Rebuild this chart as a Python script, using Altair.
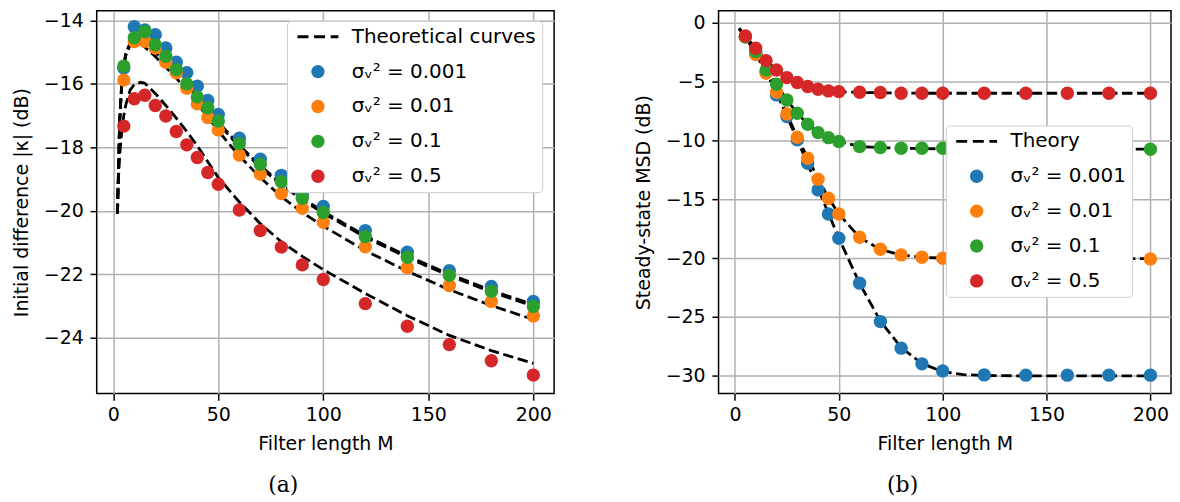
import altair as alt
import pandas as pd

# ---------------- data ----------------
M_pts = [5, 10, 15, 20, 25, 30, 35, 40, 45, 50, 60, 70, 80, 90, 100, 120, 140, 160, 180, 200]

# Panel (a): initial difference |kappa| (dB)
a_blue = [-15.50, -14.20, -14.30, -14.45, -14.87, -15.32, -15.65, -16.07, -16.52, -16.96,
          -17.71, -18.37, -18.88, -19.48, -19.86, -20.62, -21.30, -21.88, -22.38, -22.85]
a_orange = [-15.88, -14.67, -14.66, -14.87, -15.32, -15.65, -16.14, -16.63, -17.06, -17.45,
            -18.24, -18.84, -19.45, -19.92, -20.36, -21.13, -21.79, -22.35, -22.85, -23.31]
a_green = [-15.44, -14.55, -14.35, -14.77, -15.13, -15.55, -16.00, -16.41, -16.75, -17.17,
           -17.88, -18.53, -19.08, -19.60, -20.05, -20.81, -21.46, -22.03, -22.53, -23.01]
a_red = [-17.33, -16.47, -16.36, -16.68, -17.01, -17.50, -17.92, -18.32, -18.79, -19.16,
         -19.97, -20.62, -21.14, -21.70, -22.16, -22.92, -23.63, -24.21, -24.72, -25.17]

tM_a = [2, 3, 4, 5, 6, 8, 10, 13, 15, 20, 25, 30, 35, 40, 45, 50, 60, 70, 80, 90, 100, 120, 140, 160, 180, 200]
a_th_blue = [-20.1, -17.2, -16.0, -15.4, -15.05, -14.72, -14.62, -14.63, -14.70, -14.97, -15.27, -15.60, -15.97,
             -16.37, -16.78, -17.20, -17.93, -18.58, -19.13, -19.60, -20.02, -20.78, -21.42, -21.99, -22.50, -22.95]
a_th_green = [-20.1, -17.2, -16.0, -15.4, -15.05, -14.73, -14.64, -14.66, -14.73, -15.01, -15.31, -15.65, -16.02,
              -16.42, -16.83, -17.25, -17.98, -18.63, -19.18, -19.65, -20.07, -20.83, -21.47, -22.04, -22.55, -23.00]
a_th_orange = [-20.1, -17.25, -16.05, -15.45, -15.1, -14.78, -14.70, -14.74, -14.84, -15.14, -15.47, -15.82, -16.20,
               -16.62, -17.05, -17.48, -18.27, -18.95, -19.55, -20.05, -20.48, -21.25, -21.90, -22.48, -22.98, -23.42]
a_th_red = [-19.6, -18.3, -17.5, -17.0, -16.65, -16.2, -16.02, -15.95, -15.98, -16.30, -16.68, -17.08, -17.50,
            -17.95, -18.45, -18.95, -19.72, -20.40, -20.97, -21.43, -21.85, -22.60, -23.30, -23.92, -24.40, -24.80]

# Panel (b): steady-state MSD (dB)
b_blue = [-1.20, -2.60, -4.20, -6.14, -7.98, -9.96, -11.95, -14.21, -16.25, -18.31,
          -22.13, -25.39, -27.65, -28.98, -29.58, -29.92, -29.94, -29.94, -29.94, -29.94]
b_orange = [-1.20, -2.72, -4.30, -5.92, -7.76, -9.74, -11.52, -13.30, -14.92, -16.25,
            -18.23, -19.25, -19.73, -19.93, -20.01, -20.05, -20.05, -20.05, -20.05, -20.07]
b_green = [-1.20, -2.46, -4.02, -5.24, -6.57, -7.70, -8.63, -9.34, -9.77, -10.10,
           -10.53, -10.61, -10.67, -10.67, -10.67, -10.72, -10.73, -10.74, -10.75, -10.76]
b_red = [-1.13, -2.18, -3.23, -4.02, -4.67, -5.09, -5.43, -5.66, -5.80, -5.86,
         -5.91, -5.94, -6.00, -6.00, -6.00, -6.00, -6.00, -6.00, -6.00, -6.00]

tM_b = [2, 5, 10, 15, 20, 25, 30, 35, 40, 45, 50, 60, 70, 80, 90, 100, 110, 120, 140, 160, 180, 200]
b_th_blue = [-0.5, -1.15, -2.5, -4.1, -5.95, -7.95, -9.95, -12.0, -14.1, -16.2, -18.3, -22.15, -25.35,
             -27.6, -28.95, -29.65, -29.9, -29.97, -30.0, -30.0, -30.0, -30.0]
b_th_orange = [-0.5, -1.2, -2.65, -4.25, -5.9, -7.78, -9.72, -11.5, -13.25, -14.88, -16.25, -18.25, -19.27,
               -19.73, -19.93, -20.0, -20.03, -20.05, -20.05, -20.05, -20.05, -20.05]
b_th_green = [-0.5, -1.2, -2.48, -3.98, -5.25, -6.57, -7.7, -8.62, -9.32, -9.78, -10.1, -10.52, -10.62,
              -10.67, -10.7, -10.72, -10.73, -10.74, -10.75, -10.75, -10.75, -10.75]
b_th_red = [-0.5, -1.13, -2.18, -3.23, -4.02, -4.67, -5.09, -5.42, -5.65, -5.8, -5.87, -5.93, -5.96,
            -5.98, -6.0, -6.0, -6.0, -6.0, -6.0, -6.0, -6.0, -6.0]

series_labels = ["σᵥ² = 0.001", "σᵥ² = 0.01", "σᵥ² = 0.1", "σᵥ² = 0.5"]
series_colors = ["#1f77b4", "#ff7f0e", "#2ca02c", "#d62728"]
x_ticks = [0, 50, 100, 150, 200]

FONT = "DejaVu Sans"
FS = 19
DASH = [10.5, 4.6]
DASH_SYMBOL = ("M-3.06,-0.21H-1.42V0.21H-3.06Z M-0.57,-0.21H1.07V0.21H-0.57Z "
               "M1.91,-0.21H3.06V0.21H1.91Z")


def panel(pts, th_M, th, theory_label, ytitle, ydomain, yticks, lx, ly, caption):
    prow = []
    for k, vals in enumerate(pts):
        for m, v in zip(M_pts, vals):
            prow.append({"M": m, "v": v, "s": series_labels[k], "o": k})
    trow = []
    for k, vals in enumerate(th):
        for m, v in zip(th_M, vals):
            trow.append({"M": m, "v": v, "s": series_labels[k]})
    pdf = pd.DataFrame(prow)
    tdf = pd.DataFrame(trow)

    x = alt.X("M:Q", scale=alt.Scale(domain=[-7.9, 209.9], nice=False, zero=False),
              axis=alt.Axis(values=x_ticks, title="Filter length M"))
    y = alt.Y("v:Q", scale=alt.Scale(domain=ydomain, nice=False, zero=False),
              axis=alt.Axis(values=yticks, title=ytitle))

    dom = [theory_label] + series_labels
    leg = alt.Legend(title=None, orient="none", legendX=lx, legendY=ly,
                     symbolSize=180, symbolOffset=15, labelOffset=24, padding=6,
                     rowPadding=15, labelFont=FONT, labelFontSize=20, labelColor="black",
                     fillColor="white", strokeColor="#cccccc",
                     cornerRadius=4, symbolStrokeWidth=0, symbolOpacity=1,
                     labelLimit=400)

    lines = alt.Chart(tdf).mark_line(strokeDash=DASH, strokeWidth=2.8, color="black").encode(
        x=x, y=y, detail="s:N")
    points = alt.Chart(pdf).mark_point(filled=True, size=180, opacity=1, strokeWidth=0).encode(
        x=x, y=y,
        color=alt.Color("s:N", scale=alt.Scale(domain=dom, range=["black"] + series_colors), legend=leg),
        shape=alt.Shape("s:N", scale=alt.Scale(domain=dom, range=[DASH_SYMBOL] + ["circle"] * 4), legend=leg),
        order="o:Q",
    )
    return alt.layer(lines, points).properties(
        width=459, height=384,
        title=alt.TitleParams(caption, orient="bottom", font="DejaVu Serif", fontSize=22,
                              fontWeight="normal", anchor="middle", frame="bounds", offset=22,
                              color="black"),
    )


left = panel([a_blue, a_orange, a_green, a_red], tM_a,
             [a_th_blue, a_th_orange, a_th_green, a_th_red],
             "Theoretical curves", "Initial difference |κ| (dB)", [-25.75, -13.7],
             [-24, -22, -20, -18, -16, -14], 191, 10, "(a)")
right = panel([b_blue, b_orange, b_green, b_red], tM_b,
              [b_th_blue, b_th_orange, b_th_green, b_th_red],
              "Theory", "Steady-state MSD (dB)", [-31.5, 1.0],
              [-30, -25, -20, -15, -10, -5, 0], 228, 115, "(b)").properties(width=454)

chart = alt.hconcat(left, right, spacing=78).resolve_scale(
    color="independent", shape="independent").resolve_legend(
    color="independent", shape="independent").properties(
    padding={"left": 3, "top": 1, "right": 0, "bottom": 0}
).configure_axis(
    labelFont=FONT, labelFontSize=FS, labelColor="black",
    titleFont=FONT, titleFontSize=FS, titleFontWeight="normal", titleColor="black",
    tickColor="black", tickWidth=1.5, tickSize=6.7, labelPadding=5, titlePadding=10,
    domain=False, grid=True, gridColor="#b0b0b0", gridWidth=1.5,
).configure_view(stroke="black", strokeWidth=1.5).configure_axisY(titlePadding=12, labelPadding=6.8)

chart.save("out.html", embed_options={"renderer": "svg", "actions": False})
